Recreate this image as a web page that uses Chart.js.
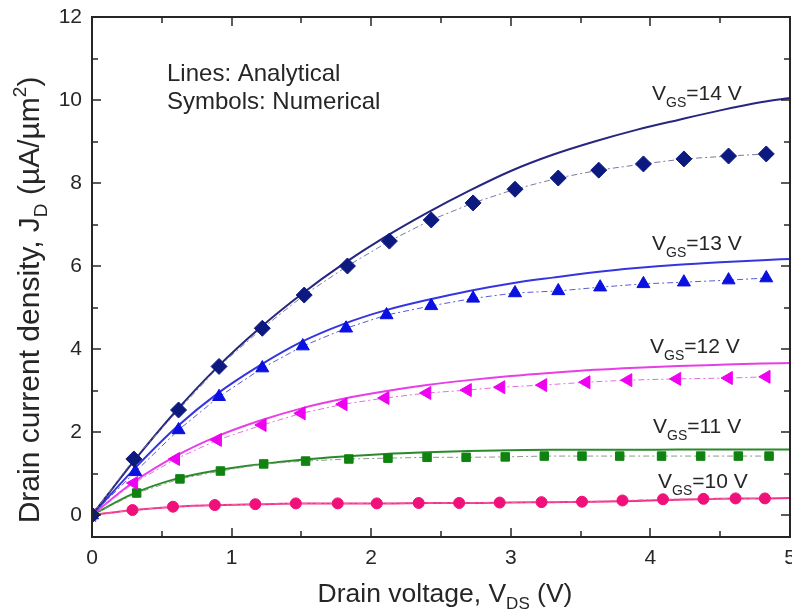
<!DOCTYPE html>
<html>
<head>
<meta charset="utf-8">
<script src="https://cdn.jsdelivr.net/npm/chart.js@4"></script>
<style>
  html, body { margin: 0; padding: 0; background: #fff; }
  #wrap { width: 792px; height: 612px; }
</style>
</head>
<body>
<div id="wrap"><canvas id="chart" width="792" height="612"></canvas></div>
<script>
// datos: V_DS (V) y J_D (uA/um^2)

// simbolos (numerico)
const vds14 = [0, 0.3, 0.62, 0.91, 1.22, 1.52, 1.83, 2.13, 2.43, 2.73, 3.03, 3.34, 3.63, 3.95, 4.24, 4.56, 4.83];
const jd14  = [0, 1.35, 2.53, 3.58, 4.5, 5.3, 6.0, 6.6, 7.11, 7.52, 7.85, 8.12, 8.31, 8.46, 8.58, 8.65, 8.7];

const vds13 = [0, 0.31, 0.62, 0.91, 1.22, 1.51, 1.82, 2.11, 2.43, 2.73, 3.03, 3.34, 3.64, 3.95, 4.24, 4.56, 4.83];
const jd13  = [0, 1.04, 2.05, 2.85, 3.54, 4.07, 4.5, 4.82, 5.04, 5.22, 5.35, 5.4, 5.49, 5.57, 5.61, 5.66, 5.71];

const vds12 = [0, 0.3, 0.6, 0.9, 1.22, 1.5, 1.8, 2.1, 2.4, 2.69, 2.93, 3.23, 3.54, 3.84, 4.19, 4.56, 4.83];
const jd12  = [0, 0.77, 1.35, 1.81, 2.17, 2.45, 2.67, 2.82, 2.94, 3.01, 3.08, 3.13, 3.2, 3.25, 3.28, 3.3, 3.33];

const vds11 = [0, 0.32, 0.63, 0.92, 1.23, 1.53, 1.84, 2.12, 2.4, 2.68, 2.96, 3.24, 3.51, 3.78, 4.08, 4.36, 4.63, 4.85];
const jd11  = [0, 0.53, 0.87, 1.06, 1.23, 1.3, 1.35, 1.37, 1.39, 1.39, 1.4, 1.42, 1.42, 1.42, 1.42, 1.42, 1.42, 1.42];

const vds10 = [0, 0.29, 0.58, 0.88, 1.17, 1.46, 1.76, 2.04, 2.34, 2.63, 2.92, 3.22, 3.51, 3.8, 4.09, 4.38, 4.61, 4.82];
const jd10  = [0, 0.12, 0.2, 0.24, 0.26, 0.28, 0.28, 0.28, 0.29, 0.29, 0.3, 0.31, 0.32, 0.35, 0.38, 0.39, 0.4, 0.4];

// lineas (analitico)
const vdsLine = [0, 0.3, 0.6, 0.9, 1.2, 1.5, 1.8, 2.1, 2.4, 2.7, 3.0, 3.3, 3.6, 3.9, 4.2, 4.5, 4.8, 5.0];
const line14 = [0, 1.3, 2.5, 3.57, 4.5, 5.32, 6.05, 6.7, 7.28, 7.81, 8.29, 8.68, 9.0, 9.28, 9.52, 9.75, 9.95, 10.05];
const line13 = [0, 1.1, 2.1, 2.93, 3.6, 4.17, 4.6, 4.93, 5.18, 5.4, 5.58, 5.72, 5.85, 5.95, 6.03, 6.09, 6.14, 6.17];
const line12 = [0, 0.8, 1.42, 1.9, 2.27, 2.57, 2.8, 2.98, 3.13, 3.25, 3.35, 3.43, 3.5, 3.55, 3.59, 3.62, 3.65, 3.66];
const line11 = [0, 0.52, 0.87, 1.08, 1.22, 1.33, 1.41, 1.47, 1.51, 1.54, 1.56, 1.57, 1.57, 1.57, 1.58, 1.58, 1.58, 1.58];
const line10 = [0, 0.12, 0.2, 0.24, 0.26, 0.28, 0.28, 0.28, 0.29, 0.29, 0.3, 0.31, 0.32, 0.34, 0.37, 0.39, 0.4, 0.41];

const xTickValues = [0, 1, 2, 3, 4, 5];
const xTickLabels = ['0', '1', '2', '3', '4', '5'];
const yTickValues = [0, 2, 4, 6, 8, 10, 12];
const yTickLabels = ['0', '2', '4', '6', '8', '10', '12'];

const gateLabels = ['=14 V', '=13 V', '=12 V', '=11 V', '=10 V'];

const FONT = "'Liberation Sans', Arial, sans-serif";
const INK = '#262626';

function pts(xs, ys) {
    return xs.map((x, i) => ({ x: x, y: ys[i] }));
}

function analytical(xs, ys, color) {
    return {
        data: pts(xs, ys),
        borderColor: color,
        borderWidth: 2,
        pointRadius: 0,
        showLine: true,
        cubicInterpolationMode: 'monotone',
        order: 2
    };
}

function numerical(xs, ys, color, dashColor, style, radius, rotation) {
    return {
        data: pts(xs, ys),
        borderColor: dashColor,
        borderWidth: 1,
        borderDash: [6, 3, 2, 3],
        backgroundColor: color,
        pointBackgroundColor: color,
        pointBorderColor: color,
        pointBorderWidth: 1,
        pointStyle: style,
        pointRadius: radius,
        rotation: rotation || 0,
        showLine: true,
        tension: 0,
        order: 1
    };
}

// texto con subindices / superindices
function drawRich(ctx, parts, x, y, align) {
    let total = 0;
    parts.forEach(p => {
        ctx.font = p.size + 'px ' + FONT;
        p.w = ctx.measureText(p.t).width;
        total += p.w;
    });
    let cx = align === 'center' ? x - total / 2 : x;
    parts.forEach(p => {
        ctx.font = p.size + 'px ' + FONT;
        ctx.fillText(p.t, cx, y + (p.dy || 0));
        cx += p.w;
    });
}

const framePlugin = {
    id: 'framePlugin',
    afterDraw(chart) {
        const ctx = chart.ctx;
        const a = chart.chartArea;
        const xs = chart.scales.x;
        const ys = chart.scales.y;
        ctx.save();
        ctx.strokeStyle = INK;
        ctx.lineWidth = 2;
        ctx.strokeRect(a.left, a.top, a.right - a.left, a.bottom - a.top);

        // marcas hacia dentro
        ctx.lineWidth = 1.5;
        ctx.beginPath();
        for (let v = 0; v <= 5.001; v += 0.5) {
            const px = Math.round(xs.getPixelForValue(v));
            const len = Math.abs(v - Math.round(v)) < 0.01 ? 9 : 6;
            ctx.moveTo(px, a.bottom); ctx.lineTo(px, a.bottom - len);
            ctx.moveTo(px, a.top); ctx.lineTo(px, a.top + len);
        }
        for (let v = 0; v <= 12; v += 1) {
            const py = Math.round(ys.getPixelForValue(v));
            const len = v % 2 === 0 ? 9 : 6;
            ctx.moveTo(a.left, py); ctx.lineTo(a.left + len, py);
            ctx.moveTo(a.right, py); ctx.lineTo(a.right - len, py);
        }
        ctx.stroke();

        ctx.fillStyle = INK;

        // etiquetas del eje x
        ctx.font = '21px ' + FONT;
        ctx.textAlign = 'center';
        ctx.textBaseline = 'top';
        xTickValues.forEach((v, i) => {
            ctx.fillText(xTickLabels[i], xs.getPixelForValue(v), a.bottom + 11);
        });

        ctx.textBaseline = 'alphabetic';
        ctx.textAlign = 'left';

        // leyenda en texto
        ctx.font = '24px ' + FONT;
        ctx.fillText('Lines: Analytical', 167, 81);
        ctx.fillText('Symbols: Numerical', 167, 109);

        // etiquetas V_GS
        const spots = [[652, 100], [652, 250], [650, 353], [653, 433], [658, 488]];
        spots.forEach((s, i) => {
            drawRich(ctx, [
                { t: 'V', size: 21 },
                { t: 'GS', size: 14, dy: 7 },
                { t: gateLabels[i], size: 21 }
            ], s[0], s[1], 'left');
        });

        // titulo eje x
        drawRich(ctx, [
            { t: 'Drain voltage, V', size: 26.5 },
            { t: 'DS', size: 17, dy: 7 },
            { t: ' (V)', size: 26.5 }
        ], 445, 602, 'center');

        // titulo eje y
        ctx.save();
        ctx.translate(39, 300);
        ctx.rotate(-Math.PI / 2);
        drawRich(ctx, [
            { t: 'Drain current density, J', size: 30 },
            { t: 'D', size: 19, dy: 8 },
            { t: ' (\u00B5A/\u00B5m', size: 30 },
            { t: '2', size: 19, dy: -13 },
            { t: ')', size: 30 }
        ], 0, 0, 'center');
        ctx.restore();

        ctx.restore();
    }
};

new Chart(document.getElementById('chart'), {
    type: 'scatter',
    data: {
        datasets: [
            analytical(vdsLine, line14, '#262680'),
            analytical(vdsLine, line13, '#3535e0'),
            analytical(vdsLine, line12, '#e83ee8'),
            analytical(vdsLine, line11, '#2a8a2a'),
            analytical(vdsLine, line10, '#f0308a'),
            numerical(vds14, jd14, '#0c1a80', '#7a7a9a', 'rectRot', 8),
            numerical(vds13, jd13, '#0a10e0', '#5a5ad8', 'triangle', 7.5),
            numerical(vds12, jd12, '#f000f0', '#e070e0', 'triangle', 7.5, -90),
            numerical(vds11, jd11, '#0f820f', '#8a9a8a', 'rect', 6),
            numerical(vds10, jd10, '#f0107a', '#f06aa8', 'circle', 5.5)
        ]
    },
    options: {
        responsive: false,
        animation: false,
        layout: { autoPadding: false, padding: { top: 17, right: 2, left: 0, bottom: 0 } },
        plugins: {
            legend: { display: false },
            tooltip: { enabled: false }
        },
        scales: {
            x: {
                type: 'linear',
                min: 0,
                max: 5,
                grid: { display: false, drawTicks: false },
                border: { display: false },
                ticks: { display: false },
                afterFit(scale) {
                    scale.height = 75;
                    scale.paddingLeft = 0;
                    scale.paddingRight = 0;
                }
            },
            y: {
                type: 'linear',
                min: -0.53,
                max: 12,
                grid: { display: false, drawTicks: false },
                border: { display: false },
                afterBuildTicks(scale) {
                    scale.ticks = yTickValues.map(v => ({ value: v }));
                },
                afterFit(scale) {
                    scale.width = 92;
                    scale.paddingTop = 0;
                    scale.paddingBottom = 0;
                },
                ticks: {
                    autoSkip: false,
                    padding: 10,
                    color: INK,
                    font: { family: FONT, size: 21 },
                    callback: (v) => yTickLabels[yTickValues.indexOf(v)]
                }
            }
        }
    },
    plugins: [framePlugin]
});
</script>
</body>
</html>
